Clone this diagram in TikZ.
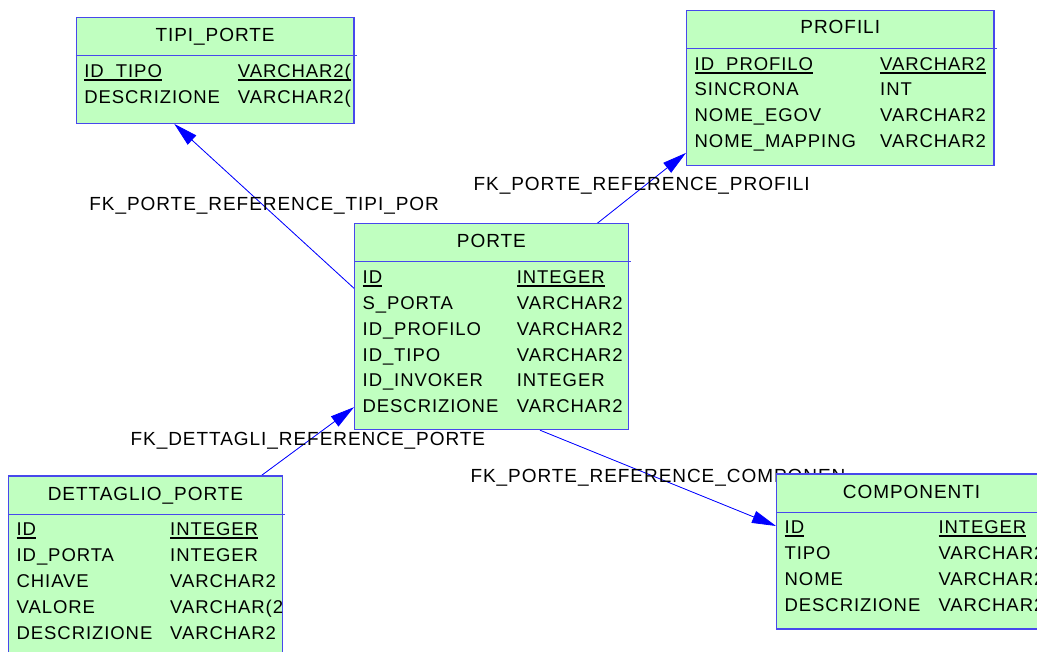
\documentclass[tikz,border=0pt]{standalone}
\usepackage{fontspec}
\setmainfont{Liberation Sans}[LetterSpace=5]
\usepackage{tikz}
\usetikzlibrary{arrows.meta,calc,backgrounds}

\definecolor{tblfill}{RGB}{192,255,192}
\definecolor{tbledge}{RGB}{72,72,236}
\definecolor{fkblue}{RGB}{0,0,255}

\newsavebox\keybox
\newcommand{\keyfld}[1]{\sbox\keybox{#1}\rlap{\rule[-3.4pt]{\wd\keybox}{2pt}}\usebox\keybox}
\newcommand{\tblrows}[3]{%
  \begin{scope}
    \clip (#1.north west) rectangle (#1.south east);
    \foreach \nm/\tp [count=\i] in {#3} {
      \node [fld] at ($(#1.north west)+(8.5,34.7+25.8*\i)$) {\nm};
      \node [fld] at ($(#1.north west)+(#2,34.7+25.8*\i)$) {\tp};
    }
  \end{scope}}

\begin{document}
\begin{tikzpicture}[
    x=1pt, y=-1pt,
    tbl/.style={rectangle, draw=tbledge, fill=tblfill, line width=1.2pt, anchor=north west, inner sep=0pt},
    ttl/.style={anchor=base, inner sep=0pt, font=\fontsize{19}{22}\selectfont},
    fld/.style={anchor=base west, inner sep=0pt, font=\fontsize{18.5}{22}\selectfont},
    sep/.style={draw=tbledge, line width=1.2pt},
    fk/.style={inner sep=0pt, font=\fontsize{19}{22}\selectfont, text=black},
    arrow/.style={-{Triangle[length=24pt,width=12.5pt]}, draw=fkblue, fill=fkblue, line width=0.8pt}
]
    \path [use as bounding box, clip] (0,0) rectangle (1037,652);

    \node [tbl, minimum width=277.6pt, minimum height=105.4pt] (tipi) at (75.7,17.3) {};
    \node [ttl] at ($(tipi.north)+(0,24)$) {TIPI\_PORTE};
    \draw [sep] ($(tipi.north west)+(0,38)$) -- ($(tipi.north east)+(2,38)$);
    \tblrows{tipi}{162}{{\keyfld{ID\_TIPO}}/{\keyfld{VARCHAR2(}}, DESCRIZIONE/VARCHAR2(}

    \node [tbl, minimum width=307.3pt, minimum height=155.3pt] (profili) at (686,9.7) {};
    \node [ttl] at ($(profili.north)+(0,24)$) {PROFILI};
    \draw [sep] ($(profili.north west)+(0,38.5)$) -- ($(profili.north east)+(2,38.5)$);
    \tblrows{profili}{194}{{\keyfld{ID\_PROFILO}}/{\keyfld{VARCHAR2}}, SINCRONA/INT,
      NOME\_EGOV/VARCHAR2, NOME\_MAPPING/VARCHAR2}

    \node [tbl, minimum width=273.7pt, minimum height=205.7pt] (porte) at (354,223.3) {};
    \node [ttl] at ($(porte.north)+(0,24)$) {PORTE};
    \draw [sep] ($(porte.north west)+(0,38.5)$) -- ($(porte.north east)+(2,38.5)$);
    \tblrows{porte}{162.7}{{\keyfld{ID}}/{\keyfld{INTEGER}}, S\_PORTA/VARCHAR2,
      ID\_PROFILO/VARCHAR2, ID\_TIPO/VARCHAR2, ID\_INVOKER/INTEGER, DESCRIZIONE/VARCHAR2}

    \node [tbl, minimum width=273.7pt, minimum height=185pt] (dettaglio) at (8,475.3) {};
    \node [ttl] at ($(dettaglio.north)+(0,25)$) {DETTAGLIO\_PORTE};
    \draw [sep] ($(dettaglio.north west)+(0,39)$) -- ($(dettaglio.north east)+(2,39)$);
    \tblrows{dettaglio}{162}{{\keyfld{ID}}/{\keyfld{INTEGER}}, ID\_PORTA/INTEGER,
      CHIAVE/VARCHAR2, VALORE/VARCHAR(2, DESCRIZIONE/VARCHAR2}

    \node [tbl, minimum width=270pt, minimum height=155pt] (componenti) at (776,473.3) {};
    \node [ttl] at ($(componenti.north)+(0,25)$) {COMPONENTI};
    \draw [sep] ($(componenti.north west)+(0,39)$) -- ($(componenti.north east)+(2,39)$);
    \tblrows{componenti}{162.3}{{\keyfld{ID}}/{\keyfld{INTEGER}}, TIPO/VARCHAR2,
      NOME/VARCHAR2, DESCRIZIONE/VARCHAR2}

    \begin{scope}[on background layer]
        \draw [arrow] ($(porte.north west)+(0,65)$) -- node [fk] {FK\_PORTE\_REFERENCE\_TIPI\_POR} ($(tipi.south west)+(98.6,0)$);
        \draw [arrow] ($(porte.north west)+(243.3,0)$) -- node [fk, yshift=2.5pt] {FK\_PORTE\_REFERENCE\_PROFILI} ($(profili.south west)+(0,-13.3)$);
        \draw [arrow] ($(dettaglio.north west)+(253.7,0)$) -- node [fk] {FK\_DETTAGLI\_REFERENCE\_PORTE} ($(porte.south west)+(0,-23)$);
        \draw [arrow] ($(porte.south west)+(186,0)$) -- node [fk] {FK\_PORTE\_REFERENCE\_COMPONEN} ($(componenti.north west)+(0,52.7)$);
    \end{scope}
\end{tikzpicture}
\end{document}
